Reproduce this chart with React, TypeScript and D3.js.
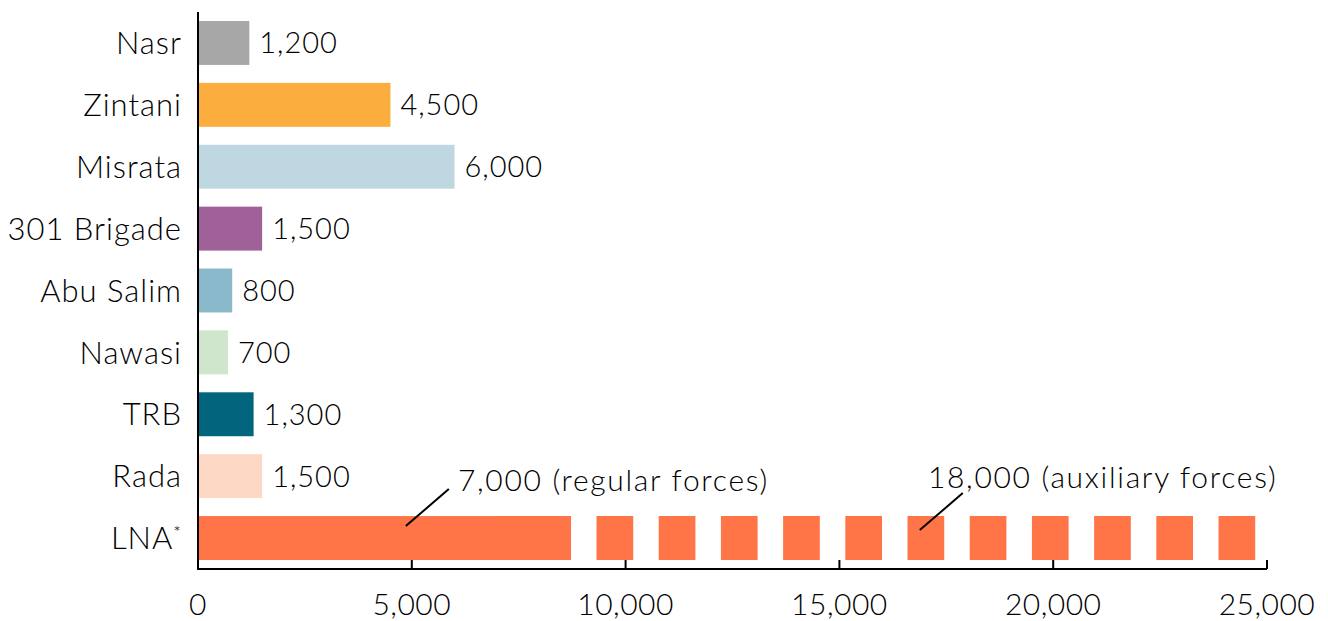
import { useEffect, useRef } from "react";
import * as d3 from "d3";

// data
const categories = ["Nasr", "Zintani", "Misrata", "301 Brigade", "Abu Salim", "Nawasi", "TRB", "Rada", "LNA"];
const values = [1200, 4500, 6000, 1500, 800, 700, 1300, 1500, 7000];
const barColors = ["#a7a7a7", "#fbad3d", "#bfd7e0", "#9f6197", "#8ab9cb", "#cfe6cc", "#03657d", "#fdd8c5", "#ff7548"];
const lnaRegular = 7000;
const lnaAuxiliary = 18000;
const xTicks = [0, 5000, 10000, 15000, 20000, 25000];
const annotationTexts = ["7,000 (regular forces)", "18,000 (auxiliary forces)"];
const annotationAnchors = [4860, 16880];
const annotationTextAt = [6080, 17070];

export default function App() {
    const ref = useRef<SVGSVGElement>(null);

    useEffect(() => {
        const svg = d3.select(ref.current);
        svg.selectAll("*").remove();

        const margin = { left: 198, top: 21, right: 61, bottom: 52 };
        const width = 1328;
        const font = "Lato, 'Open Sans', sans-serif";
        const ink = "#000";
        const weight = 300;

        const x = d3.scaleLinear().domain([0, 25000]).range([margin.left, width - margin.right]);
        const y = d3.scaleBand().domain(categories).range([margin.top, 560]).paddingInner(0.29).paddingOuter(0);
        const axisY = 569;

        // bars (LNA regular part drawn solid, auxiliary dashed)
        svg.append("g")
            .selectAll("rect")
            .data(categories)
            .join("rect")
            .attr("x", x(0) + 1)
            .attr("y", d => y(d)!)
            .attr("width", (d, i) => x(values[i]) - x(0) - 1)
            .attr("height", y.bandwidth())
            .attr("fill", (d, i) => barColors[i]);

        // auxiliary forces as a dashed thick line
        const lead = 74.7, dash = 36.7, gap = 25.5;
        const pattern = [lead, gap];
        for (let k = 0; k < 20; k++) pattern.push(dash, gap);
        const lnaY = y("LNA")! + y.bandwidth() / 2;
        svg.append("line")
            .attr("x1", x(lnaRegular) - 1)
            .attr("x2", x(lnaRegular + lnaAuxiliary))
            .attr("y1", lnaY)
            .attr("y2", lnaY)
            .attr("stroke", barColors[8])
            .attr("stroke-width", y.bandwidth())
            .attr("stroke-dasharray", pattern.join(" "));

        // value labels
        svg.append("g")
            .selectAll("text")
            .data(categories.slice(0, 8))
            .join("text")
            .attr("x", (d, i) => x(values[i]) + 10)
            .attr("y", d => y(d)! + y.bandwidth() / 2)
            .attr("dy", "0.36em")
            .attr("font-family", font)
            .attr("font-weight", weight)
            .attr("font-size", 29)
            .attr("letter-spacing", 1)
            .attr("fill", ink)
            .text((d, i) => d3.format(",")(values[i]));

        // category labels
        const cat = svg.append("g")
            .selectAll("text")
            .data(categories)
            .join("text")
            .attr("x", x(0) - 16)
            .attr("y", d => y(d)! + y.bandwidth() / 2)
            .attr("dy", "0.36em")
            .attr("text-anchor", "end")
            .attr("font-family", font)
            .attr("font-weight", weight)
            .attr("font-size", 31)
            .attr("letter-spacing", 1)
            .attr("fill", ink);
        cat.append("tspan").text(d => d);
        cat.filter(d => d === "LNA").append("tspan")
            .attr("font-size", 18)
            .attr("dy", -10)
            .text("*");

        // annotations
        annotationTexts.forEach((t, i) => {
            const ax = x(annotationAnchors[i]);
            const ay = y("LNA")! + (i === 0 ? 10 : 14);
            svg.append("line")
                .attr("x1", ax).attr("y1", ay)
                .attr("x2", ax + 43).attr("y2", ay - 37)
                .attr("stroke", ink)
                .attr("stroke-width", 2);
            svg.append("text")
                .attr("x", x(annotationTextAt[i]))
                .attr("y", i === 0 ? 491 : 488)
                .attr("font-family", font)
                .attr("font-weight", weight)
                .attr("font-size", 30)
                .attr("letter-spacing", 1.7)
                .attr("fill", ink)
                .text(t);
        });

        // axes
        svg.append("line")
            .attr("x1", x(0)).attr("x2", x(0))
            .attr("y1", 12).attr("y2", axisY + 1)
            .attr("stroke", ink).attr("stroke-width", 2);
        svg.append("line")
            .attr("x1", x(0)).attr("x2", x(25000))
            .attr("y1", axisY).attr("y2", axisY)
            .attr("stroke", ink).attr("stroke-width", 2);

        const ticks = svg.append("g");
        ticks.selectAll("line")
            .data(xTicks.slice(1))
            .join("line")
            .attr("x1", d => x(d)).attr("x2", d => x(d))
            .attr("y1", axisY).attr("y2", axisY - 9)
            .attr("stroke", ink).attr("stroke-width", 2);
        ticks.selectAll("text")
            .data(xTicks)
            .join("text")
            .attr("x", d => x(d))
            .attr("y", 615)
            .attr("text-anchor", "middle")
            .attr("font-family", font)
            .attr("font-weight", weight)
            .attr("font-size", 30)
            .attr("letter-spacing", 0.5)
            .attr("fill", ink)
            .text(d => d3.format(",")(d));
    }, []);

    return (
        <svg ref={ref} width={1328} height={621}
            style={{ position: "absolute", left: 0, top: 0, background: "#fff" }} />
    );
}
